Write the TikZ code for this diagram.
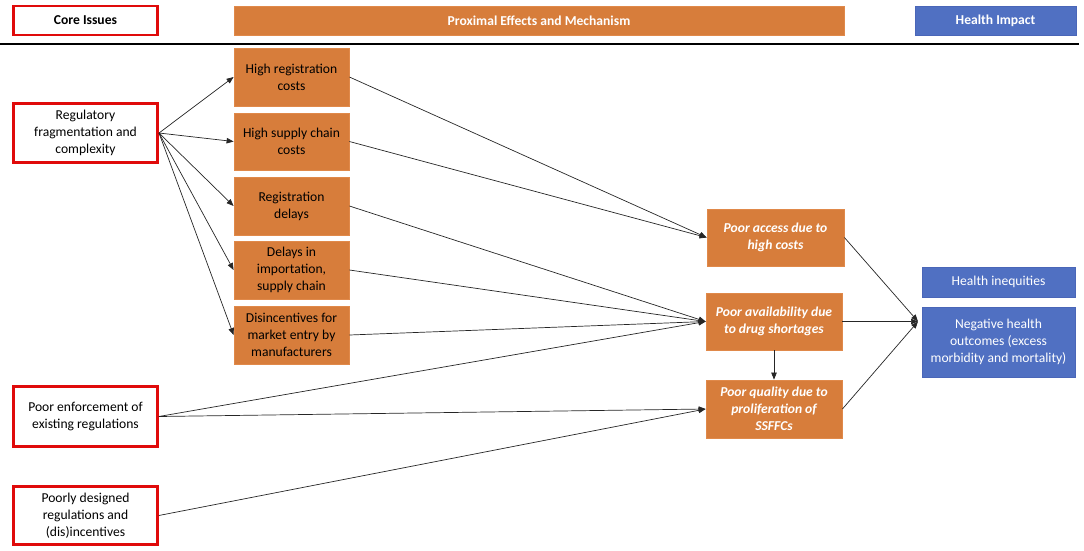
\documentclass[tikz,border=0pt]{standalone}
\usepackage{fontspec}
\setmainfont{Carlito}
\usetikzlibrary{arrows.meta}
\definecolor{org}{HTML}{D77D3B}
\definecolor{orgb}{HTML}{E0894A}
\definecolor{blu}{HTML}{5070C2}
\definecolor{blub}{HTML}{4A66B8}
\definecolor{redb}{HTML}{E00A0A}
\begin{document}
\begin{tikzpicture}[x=1pt,y=-1pt,
  every node/.style={font=\fontsize{13.6}{16.8}\selectfont, inner sep=0pt, align=center},
  core/.style={draw=redb, line width=2.6pt, fill=white, text=black},
  obox/.style={draw=orgb, line width=0.8pt, fill=org, text=black},
  ores/.style={draw=orgb, line width=0.8pt, fill=org, text=white, font=\fontsize{13.6}{16.8}\selectfont\bfseries\itshape},
  bbox/.style={draw=blub, line width=0.8pt, fill=blu, text=white},
  con/.style={draw=black!85, line width=0.7pt},
  arr/.style={con, -{Triangle[length=7pt,width=5.5pt]}}
]
\useasboundingbox (0,0) rectangle (1084,550);
% headers
\node[core, minimum width=144, minimum height=29, font=\fontsize{13.6}{16.8}\selectfont\bfseries] (hcore) at (85.5,20.5) {Core Issues};
\node[obox, minimum width=610, minimum height=29, text=white, font=\fontsize{13.6}{16.8}\selectfont\bfseries] (hprox) at (539,20.5) {Proximal Effects and Mechanism};
\node[bbox, minimum width=161, minimum height=29, font=\fontsize{13.6}{16.8}\selectfont\bfseries] (hhealth) at (995.5,20.5) {Health Impact};
\coordinate (la) at (0,44);
\coordinate (lb) at (1079,44);
\draw[line width=1.8pt, black] (la) -- (lb);
% core issues
\node[core, minimum width=144, minimum height=59] (reg) at (85.5,133) {Regulatory\\fragmentation and\\complexity};
\node[core, minimum width=144, minimum height=60] (enf) at (85.5,416.5) {Poor enforcement of\\existing regulations};
\node[core, minimum width=144, minimum height=58] (des) at (85.5,515.5) {Poorly designed\\regulations and\\(dis)incentives};
% proximal effects
\node[obox, minimum width=115, minimum height=58] (hrc) at (291.5,77) {High registration\\costs};
\node[obox, minimum width=115, minimum height=57] (hsc) at (291.5,141.5) {High supply chain\\costs};
\node[obox, minimum width=115, minimum height=58] (rd) at (291.5,206) {Registration\\delays};
\node[obox, minimum width=115, minimum height=58] (di) at (291.5,270) {Delays in\\importation,\\supply chain};
\node[obox, minimum width=115, minimum height=58] (dis) at (291.5,335) {Disincentives for\\market entry by\\manufacturers};
% mechanisms
\node[ores, minimum width=137, minimum height=57] (acc) at (775.5,237.5) {Poor access due to\\high costs};
\node[ores, minimum width=136, minimum height=57] (ava) at (774,321.5) {Poor availability due\\to drug shortages};
\node[ores, minimum width=136, minimum height=58] (qua) at (774,409) {Poor quality due to\\proliferation of\\SSFFCs};
% health
\node[bbox, minimum width=153, minimum height=30] (ineq) at (998.5,282) {Health inequities};
\node[bbox, minimum width=153, minimum height=70] (neg) at (998.5,342) {Negative health\\outcomes (excess\\morbidity and mortality)};
% connectors
\coordinate (rego) at (159,133);
\draw[arr] (rego) -- (hrc.west);
\draw[arr] (rego) -- (hsc.west);
\draw[arr] (rego) -- (rd.west);
\draw[arr] (rego) -- (di.west);
\draw[arr] (rego) -- (dis.west);
\draw[arr] (hrc.east) -- (acc.west);
\draw[arr] (hsc.east) -- (acc.west);
\draw[arr] (rd.east) -- (ava.west);
\draw[arr] (di.east) -- (ava.west);
\draw[arr] (dis.east) -- (ava.west);
\draw[arr] (enf.east) -- (ava.west);
\draw[arr] (enf.east) -- (qua.west);
\draw[arr] (des.east) -- (qua.west);
\draw[arr] (ava.south) -- (qua.north);
\coordinate (hp) at (918,321.5);
\draw[arr] (acc.east) -- (hp);
\draw[arr] (ava.east) -- (hp);
\draw[arr] (qua.east) -- (hp);
\end{tikzpicture}
\end{document}
